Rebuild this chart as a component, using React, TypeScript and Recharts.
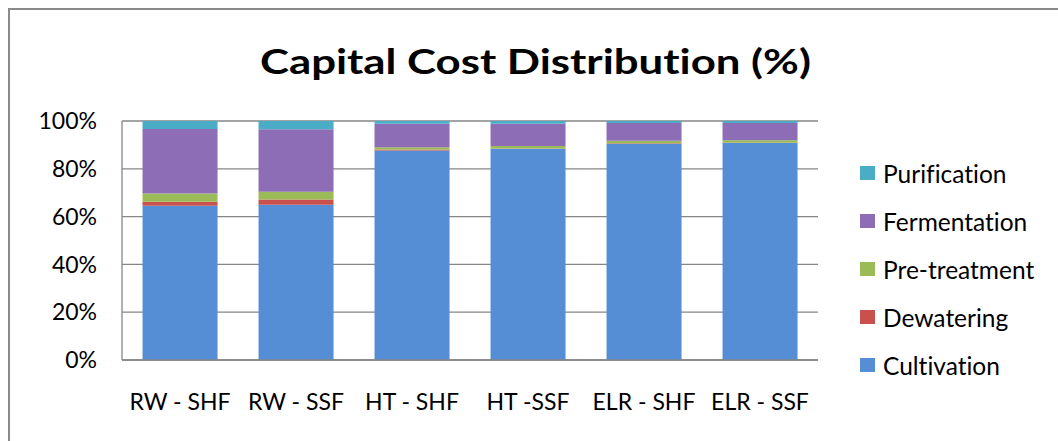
import React from 'react';
import { BarChart, Bar, XAxis, YAxis, CartesianGrid, Legend } from 'recharts';

// Process routes along the x axis
const routes = ['RW - SHF', 'RW - SSF', 'HT - SHF', 'HT -SSF', 'ELR - SHF', 'ELR - SSF'];

// Share of capital cost per process step (%), one value per route
const cultivation = [64.5, 65.0, 87.7, 88.4, 90.5, 90.8];
const dewatering = [1.7, 2.2, 0.4, 0.1, 0.2, 0.1];
const pretreatment = [3.5, 3.2, 0.9, 1.0, 1.0, 1.0];
const fermentation = [27.0, 26.2, 9.9, 9.4, 7.5, 7.3];
const purification = [3.3, 3.4, 1.1, 1.1, 0.8, 0.8];

const yTicks = [0, 20, 40, 60, 80, 100];

const series = [
  { key: 'cultivation', name: 'Cultivation', values: cultivation, color: '#558ED5' },
  { key: 'dewatering', name: 'Dewatering', values: dewatering, color: '#C9504D' },
  { key: 'pretreatment', name: 'Pre-treatment', values: pretreatment, color: '#9BBB59' },
  { key: 'fermentation', name: 'Fermentation', values: fermentation, color: '#8C6DB6' },
  { key: 'purification', name: 'Purification', values: purification, color: '#4BACC6' },
];

const data = routes.map((route, i) => {
  const row: Record<string, string | number> = { route };
  series.forEach((s) => {
    row[s.key] = s.values[i];
  });
  return row;
});

const FONT = 'Lato, "Open Sans", sans-serif';
const GRID = '#868686';

const LegendList = () => (
  <div style={{ fontFamily: FONT, fontSize: 24.5, color: '#000' }}>
    {[...series].reverse().map((s) => (
      <div
        key={s.key}
        style={{ display: 'flex', alignItems: 'center', height: 48 }}
      >
        <span
          style={{
            display: 'inline-block',
            width: 15,
            height: 14,
            marginRight: 8,
            background: s.color,
          }}
        />
        <span>{s.name}</span>
      </div>
    ))}
  </div>
);

export default function App() {
  return (
    <div
      style={{
        position: 'fixed',
        left: 0,
        top: 0,
        width: 1058,
        height: 441,
        overflow: 'hidden',
        background: '#fff',
        fontVariantLigatures: 'none',
        fontFeatureSettings: '"liga" 0, "clig" 0',
      }}
    >
      <div
        style={{
          position: 'absolute',
          left: 8,
          top: 8,
          width: 1200,
          height: 600,
          borderTop: '2px solid #8a8a8a',
          borderLeft: '2px solid #8a8a8a',
        }}
      />
      <div
        style={{
          position: 'absolute',
          left: 8,
          width: 1055,
          top: 39,
          lineHeight: '42px',
          textAlign: 'center',
          fontFamily: FONT,
          fontWeight: 700,
          fontSize: 35,
          color: '#000',
          transform: 'scaleX(1.25)',
          transformOrigin: '527.5px 50%',
        }}
      >
        Capital Cost Distribution (%)
      </div>
      <div style={{ position: 'absolute', left: 0, top: 0 }}>
        <BarChart
          width={1058}
          height={441}
          data={data}
          margin={{ top: 121, right: 240, bottom: 21, left: 0 }}
          barCategoryGap="17.7%"
        >
          <CartesianGrid vertical={false} stroke={GRID} strokeWidth={1.3} />
          <XAxis
            dataKey="route"
            height={60}
            axisLine={{ stroke: GRID, strokeWidth: 1.3 }}
            tickLine={false}
            tickSize={0}
            tickMargin={34}
            interval={0}
            tick={{ fill: '#000', fontFamily: FONT, fontSize: 23 }}
          />
          <YAxis
            width={122}
            domain={[0, 100]}
            ticks={yTicks}
            allowDataOverflow
            tickFormatter={(v: number) => `${v}%`}
            axisLine={{ stroke: GRID, strokeWidth: 1.3 }}
            tickLine={false}
            tickSize={0}
            tickMargin={25}
            tick={{ fill: '#000', fontFamily: FONT, fontSize: 23 }}
          />
          <Legend
            layout="vertical"
            align="center"
            verticalAlign="middle"
            content={<LegendList />}
            wrapperStyle={{ left: 860, top: 149, width: 198, height: 240 }}
          />
          {series.map((s) => (
            <Bar
              key={s.key}
              dataKey={s.key}
              name={s.name}
              stackId="cost"
              fill={s.color}
              isAnimationActive={false}
            />
          ))}
        </BarChart>
      </div>
    </div>
  );
}
